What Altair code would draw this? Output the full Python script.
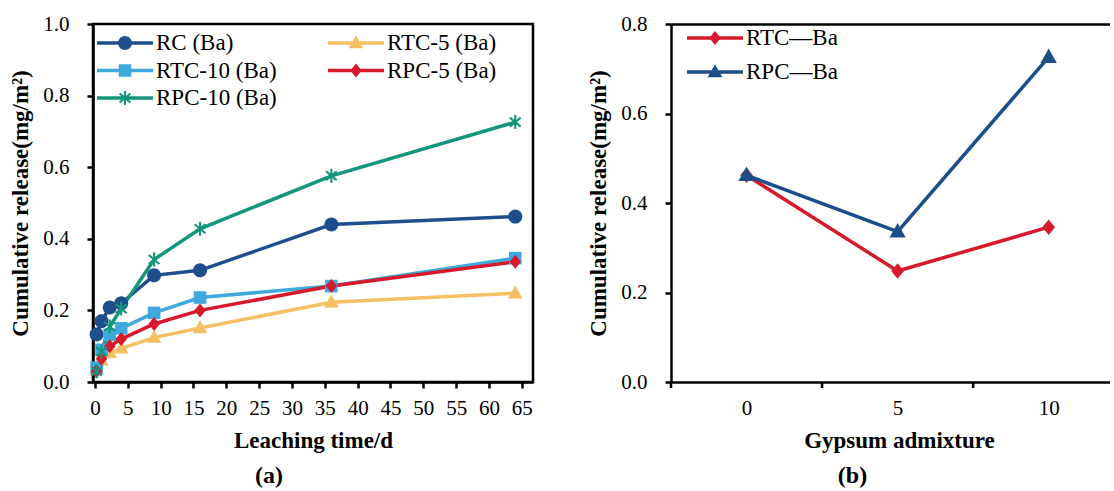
import math
import altair as alt
import pandas as pd

# ---------------- data ----------------
times = [0.25, 1, 2.25, 4, 9, 16, 36, 64]
series_a = ["RC (Ba)", "RTC-5 (Ba)", "RTC-10 (Ba)", "RPC-5 (Ba)", "RPC-10 (Ba)"]
rc_ba = [0.133, 0.170, 0.208, 0.220, 0.298, 0.312, 0.440, 0.462]
rtc5_ba = [0.035, 0.060, 0.082, 0.094, 0.124, 0.151, 0.223, 0.248]
rtc10_ba = [0.040, 0.090, 0.132, 0.150, 0.193, 0.236, 0.268, 0.346]
rpc5_ba = [0.030, 0.065, 0.100, 0.120, 0.162, 0.200, 0.268, 0.336]
rpc10_ba = [0.030, 0.085, 0.155, 0.205, 0.342, 0.428, 0.576, 0.726]
colors_a = ["#1F4E8C", "#F5C063", "#3FA9DB", "#D7192B", "#13967C"]
markers_a = ["circle", "triangle", "square", "diamond", "asterisk"]

gypsum = [0, 5, 10]
series_b = ["RTC\u2014Ba", "RPC\u2014Ba"]
rtc_b = [0.462, 0.248, 0.346]
rpc_b = [0.462, 0.336, 0.726]
colors_b = ["#D7192B", "#1C4E8A"]
markers_b = ["diamond", "triangle"]

x_ticks_a = list(range(0, 70, 5))
y_ticks_a = [0.0, 0.2, 0.4, 0.6, 0.8, 1.0]
y_ticks_b = [0.0, 0.2, 0.4, 0.6, 0.8]
band_edges_b = [-2.5, 2.5, 7.5]

FONT = "Liberation Serif, Times New Roman, Times, DejaVu Serif, serif"


# ---------------- marker paths ----------------
def poly(pts):
    return "M" + "L".join(f"{x:.4f},{y:.4f}" for x, y in pts) + "Z"


def marker_path(kind, s=1.0):
    if kind == "circle":
        n = 28
        return poly([(s * math.cos(2 * math.pi * i / n), s * math.sin(2 * math.pi * i / n)) for i in range(n)])
    if kind == "square":
        h = 0.9 * s
        return poly([(-h, -h), (h, -h), (h, h), (-h, h)])
    if kind == "triangle":
        return poly([(0, -1.1 * s), (1.05 * s, 0.75 * s), (-1.05 * s, 0.75 * s)])
    if kind == "diamond":
        return poly([(0, -s), (0.82 * s, 0), (0, s), (-0.82 * s, 0)])
    if kind == "asterisk":
        t = 0.15 * s
        L = s
        parts = []
        for ang in (90, 40, 140):
            a = math.radians(ang)
            c, sn = math.cos(a), math.sin(a)
            pts = [(u * c - v * sn, u * sn + v * c) for u, v in [(-L, -t), (L, -t), (L, t), (-L, t)]]
            parts.append(poly(pts))
        return " ".join(parts)
    return "circle"


def legend_path(kind, s=0.25, lt=0.065):
    return poly([(-1, -lt), (1, -lt), (1, lt), (-1, lt)]) + " " + marker_path(kind, s)


# ---------------- tables ----------------
rows = []
for name, vals in zip(series_a, [rc_ba, rtc5_ba, rtc10_ba, rpc5_ba, rpc10_ba]):
    for t, v in zip(times, vals):
        rows.append({"series": name, "lg": name, "t": t, "v": v})
df_a = pd.DataFrame(rows)

rows = []
for name, vals in zip(series_b, [rtc_b, rpc_b]):
    for g, v in zip(gypsum, vals):
        rows.append({"series": name, "lg": name, "g": g, "v": v})
df_b = pd.DataFrame(rows)
df_edges = pd.DataFrame({"g": band_edges_b})

axis_common = dict(
    labelFont=FONT, labelFontSize=21, labelColor="black",
    titleFont=FONT, titleFontSize=23, titleFontWeight="bold", titleColor="black",
    tickColor="black", tickWidth=2.5, tickSize=6,
    domainColor="black", domainWidth=2.5, grid=False,
)

# ---------------- panel (a) ----------------
xa = alt.X("t:Q", scale=alt.Scale(domain=[-0.3, 66.7], nice=False, zero=False),
           axis=alt.Axis(values=x_ticks_a, title="Leaching time/d", labelPadding=9,
                         titlePadding=11, **axis_common))
ya = alt.Y("v:Q", scale=alt.Scale(domain=[0, 1], nice=False),
           axis=alt.Axis(values=y_ticks_a, format=".1f", title="Cumulative release(mg/m\u00b2)",
                         labelPadding=18, titlePadding=10, **axis_common))

col_a = alt.Scale(domain=series_a, range=colors_a)
shp_a = alt.Scale(domain=series_a, range=[marker_path(m) for m in markers_a])
lshp_a = alt.Scale(domain=series_a, range=[legend_path(m) for m in markers_a])

leg_a = alt.Legend(
    title=None, orient="none", legendX=4, legendY=8, columns=2, direction="horizontal",
    columnPadding=51, symbolSize=3136, symbolOpacity=1, symbolStrokeWidth=0, labelFont=FONT,
    labelFontSize=23, labelColor="black", labelOffset=3, rowPadding=4.5, padding=0,
    clipHeight=22,
)

lines_a = alt.Chart(df_a).mark_line(strokeWidth=3.5).encode(
    x=xa, y=ya, color=alt.Color("series:N", scale=col_a, legend=None), detail="series:N")
pts_a = alt.Chart(df_a).mark_point(filled=True, size=196, opacity=1, strokeWidth=0).encode(
    x=xa, y=ya, color=alt.Color("series:N", scale=col_a, legend=None),
    shape=alt.Shape("series:N", scale=shp_a, legend=None))
leg_layer_a = alt.Chart(df_a).mark_point(filled=True, opacity=0).encode(
    x=xa, y=ya, color=alt.Color("lg:N", scale=col_a, legend=leg_a),
    shape=alt.Shape("lg:N", scale=lshp_a, legend=leg_a))

panel_a = alt.layer(lines_a, pts_a, leg_layer_a).resolve_scale(
    color="independent", shape="independent"
).properties(
    width=440, height=358,
    view=alt.ViewBackground(stroke="black", strokeWidth=2.5),
    title=alt.TitleParams("(a)", orient="bottom", font=FONT, fontSize=24, fontWeight="bold",
                          color="black", offset=12, dx=-44),
)

# ---------------- panel (b) ----------------
yb = alt.Y("v:Q", scale=alt.Scale(domain=[0, 0.8], nice=False),
           axis=alt.Axis(values=y_ticks_b, format=".1f", title="Cumulative release(mg/m\u00b2)",
                         labelPadding=18, titlePadding=10, **axis_common))
xscale_b = alt.Scale(domain=[-2.5, 12.03], nice=False, zero=False)
xb_labels = alt.X("g:Q", scale=xscale_b,
                  axis=alt.Axis(values=gypsum, ticks=False, orient="bottom",
                                title="Gypsum admixture", labelPadding=15, titlePadding=11,
                                titleX=228, titleAlign="center", **axis_common))
xb_top = alt.X("g:Q", scale=xscale_b,
               axis=alt.Axis(values=[], labels=False, ticks=False, title=None, orient="top",
                             **axis_common))
xb_none = alt.X("g:Q", scale=xscale_b, axis=None)

col_b = alt.Scale(domain=series_b, range=colors_b)
shp_b = alt.Scale(domain=series_b, range=[marker_path(m) for m in markers_b])
lshp_b = alt.Scale(domain=series_b, range=[legend_path(m) for m in markers_b])

leg_b = alt.Legend(
    title=None, orient="none", legendX=16, legendY=3, columns=1,
    symbolSize=3136, symbolOpacity=1, symbolStrokeWidth=0, labelFont=FONT,
    labelFontSize=23, labelColor="black", labelOffset=3, rowPadding=11, padding=0,
    clipHeight=22,
)

lines_b = alt.Chart(df_b).mark_line(strokeWidth=3.5).encode(
    x=xb_labels, y=yb, color=alt.Color("series:N", scale=col_b, legend=None), detail="series:N")
pts_b = alt.Chart(df_b).mark_point(filled=True, size=240, opacity=1, strokeWidth=0).encode(
    x=xb_none, y=yb, color=alt.Color("series:N", scale=col_b, legend=None),
    shape=alt.Shape("series:N", scale=shp_b, legend=None))
leg_layer_b = alt.Chart(df_b).mark_point(filled=True, opacity=0).encode(
    x=xb_top, y=yb, color=alt.Color("lg:N", scale=col_b, legend=leg_b),
    shape=alt.Shape("lg:N", scale=lshp_b, legend=leg_b))
ticks_b = alt.Chart(df_edges).mark_rule(color="black", strokeWidth=2.5).encode(
    x=xb_none, y=alt.value(358), y2=alt.value(364))

panel_b = alt.layer(lines_b, pts_b, leg_layer_b, ticks_b).resolve_scale(
    color="independent", shape="independent"
).resolve_axis(x="independent").properties(
    width=439, height=358,
    view=alt.ViewBackground(strokeWidth=0),
    title=alt.TitleParams("(b)", orient="bottom", font=FONT, fontSize=24, fontWeight="bold",
                          color="black", offset=12, dx=-38),
)

chart = alt.hconcat(panel_a, panel_b, spacing=52).resolve_scale(
    color="independent", shape="independent"
).properties(
    padding={"left": 8, "top": 11, "right": 0, "bottom": 0},
    background="white",
).configure_view(strokeWidth=0)

chart.save("out.html", embed_options={"renderer": "svg", "actions": False})
